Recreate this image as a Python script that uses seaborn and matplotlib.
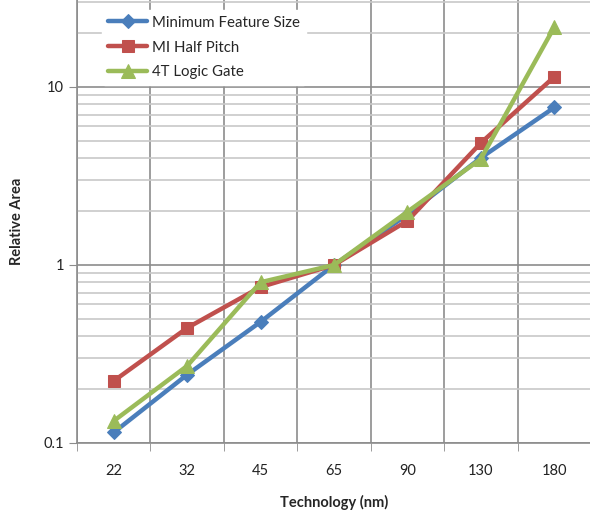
import numpy as np
import pandas as pd
import matplotlib
matplotlib.use("Agg")
import matplotlib.pyplot as plt
import seaborn as sns
from matplotlib.ticker import FixedLocator, NullFormatter

technology = ["22", "32", "45", "65", "90", "130", "180"]
min_feature_size = [0.1146, 0.242, 0.479, 1.0, 1.917, 4.0, 7.67]
mi_half_pitch = [0.223, 0.443, 0.752, 1.0, 1.77, 4.85, 11.4]
logic_gate_4t = [0.133, 0.271, 0.80, 1.0, 1.99, 3.94, 21.7]
series_names = ["Minimum Feature Size", "MI Half Pitch", "4T Logic Gate"]
y_ticks = [0.1, 1, 10]
y_tick_labels = ["0.1", "1", "10"]

df = pd.DataFrame({
    "Technology (nm)": technology * 3,
    "Relative Area": min_feature_size + mi_half_pitch + logic_gate_4t,
    "series": [series_names[0]] * 7 + [series_names[1]] * 7 + [series_names[2]] * 7,
})

sns.set_style("white")
plt.rcParams["font.family"] = ["Lato", "DejaVu Sans"]

fig = plt.figure(figsize=(5.90, 5.17), dpi=100)
ax = fig.add_axes([77 / 590, 1 - 443 / 517, 514 / 590, 443 / 517])

colors = ["#4A7EBB", "#C0504D", "#9BBB59"]
markers = ["D", "s", "^"]
msizes = [7, 9, 10]
for name, c, m, ms in zip(series_names, colors, markers, msizes):
    sub = df[df["series"] == name]
    sns.lineplot(data=sub, x=np.arange(len(technology)), y="Relative Area",
                 color=c, marker=m, markersize=ms, markeredgecolor=c,
                 linewidth=3.2, label=name, ax=ax, zorder=3)

ax.set_yscale("log")
ax.set_ylim(0.1, 30.8)
ax.set_xlim(-0.5, len(technology) - 0.5)

# y axis ticks / grid
ax.yaxis.set_major_locator(FixedLocator(y_ticks))
ax.set_yticklabels(y_tick_labels)
minor_y = [m * d for d in [0.1, 1, 10] for m in range(2, 10) if m * d < 31]
ax.yaxis.set_minor_locator(FixedLocator(minor_y))
ax.yaxis.set_minor_formatter(NullFormatter())
ax.grid(True, which="major", axis="y", color="#8c8c8c", linewidth=1.2, zorder=0)
ax.grid(True, which="minor", axis="y", color="#c8c8c8", linewidth=1.2, zorder=0)

# x axis ticks / grid
ax.set_xticks(np.arange(len(technology)))
ax.set_xticklabels(technology)
ax.xaxis.set_minor_locator(FixedLocator(np.arange(-0.5, len(technology), 1.0)))
ax.grid(True, which="minor", axis="x", color="#8c8c8c", linewidth=1.2, zorder=0)
ax.tick_params(axis="x", which="major", length=0, pad=15, labelsize=10.5, colors="#222222")
ax.tick_params(axis="x", which="minor", length=6, direction="out", color="#8c8c8c", bottom=True)
ax.tick_params(axis="y", which="major", length=6, direction="out", color="#8c8c8c",
               labelsize=10.5, colors="#222222", left=True)
ax.tick_params(axis="y", which="minor", length=0)

for s in ["top", "right"]:
    ax.spines[s].set_visible(False)
for s in ["left", "bottom"]:
    ax.spines[s].set_color("#8c8c8c")
    ax.spines[s].set_linewidth(1.2)

ax.set_xlabel("Technology (nm)", fontweight="bold", fontsize=10.5, labelpad=12)
ax.set_ylabel("Relative Area", fontweight="bold", fontsize=10.5, labelpad=14)

leg = ax.legend(loc="upper left", bbox_to_anchor=(0.035, 0.995), frameon=True,
                fontsize=10.8, handlelength=2.6, handletextpad=0.3,
                labelspacing=0.72, borderaxespad=0.5)
leg.get_frame().set_facecolor("white")
leg.get_frame().set_edgecolor("white")
leg.get_frame().set_alpha(1)

fig.savefig("out.png", dpi=100)
